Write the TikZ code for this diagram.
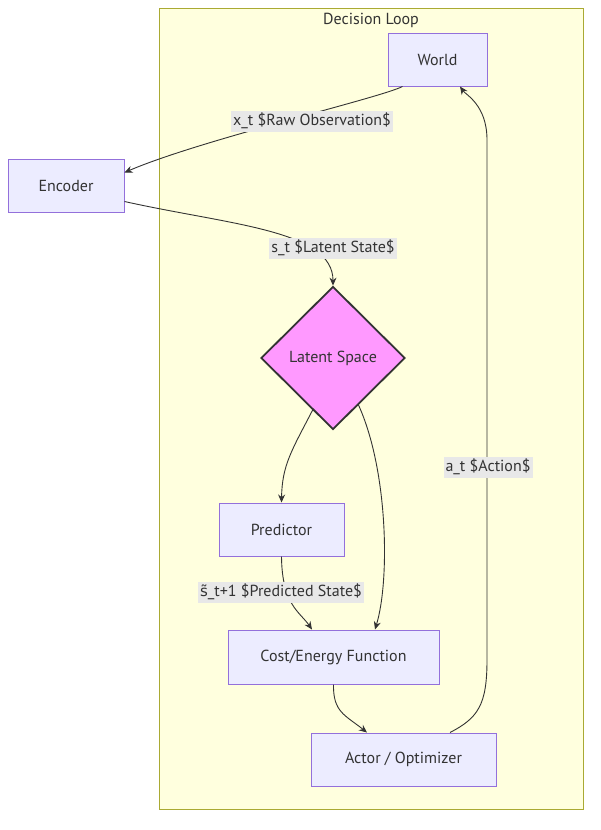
\documentclass[tikz,border=0pt]{standalone}
\usepackage{fontspec}
\setmainfont{PT Sans}
\newfontfamily\djv{DejaVu Sans}
\usetikzlibrary{shapes.geometric,arrows.meta,calc}
\definecolor{clfill}{HTML}{FFFFDE}
\definecolor{clline}{HTML}{AAAA33}
\definecolor{ndfill}{HTML}{ECECFF}
\definecolor{ndline}{HTML}{9370DB}
\definecolor{txt}{HTML}{333333}
\definecolor{lblbg}{HTML}{E8E8E8}
\definecolor{violetfill}{HTML}{FF99FF}
\tikzset{
  box/.style={draw=ndline, fill=ndfill, line width=1pt, text=txt, font=\fontsize{16}{19}\selectfont, inner sep=0pt},
  lbl/.style={fill=lblbg, text=txt, font=\fontsize{16}{19}\selectfont, inner sep=2pt, minimum height=21pt},
  arr/.style={draw=txt, line width=0.9pt, -{Stealth[length=8pt,width=7pt]}},
}
\begin{document}
\begin{tikzpicture}[x=1pt,y=-1pt]
\useasboundingbox (0,0) rectangle (600,830);
\fill[white] (0,0) rectangle (600,830);
% cluster
\draw[clline, fill=clfill, line width=1pt] (159,8) rectangle (583,809);
\node[text=txt, font=\fontsize{16}{19}\selectfont] (title) at (371,20) {Decision Loop};
% nodes
\node[box, minimum width=99pt, minimum height=53pt] (world) at (437.5,59.5) {World};
\node[box, minimum width=116pt, minimum height=53pt] (enc) at (66,185.5) {Encoder};
\node[diamond, draw=txt, fill=violetfill, line width=1.8pt, minimum width=144pt, minimum height=143pt, inner sep=0pt, text=txt, font=\fontsize{16}{19}\selectfont] (lat) at (333,358) {Latent Space};
\node[box, minimum width=125pt, minimum height=53pt] (pred) at (281.5,529.5) {Predictor};
\node[box, minimum width=211pt, minimum height=54pt] (cost) at (333.5,657) {Cost/Energy Function};
\node[box, minimum width=185pt, minimum height=53pt] (act) at (403.5,759.5) {Actor / Optimizer};
% edges
\coordinate (w1) at ($(world.south)+(-35,0)$);
\coordinate (e1) at ($(enc.east)+(0,-13)$);
\draw[arr] (w1) .. controls (380,98) and (200,140) .. (e1);
\node[lbl] (l1) at (312,121) {x\_t \$Raw Observation\$};
\coordinate (e2) at ($(enc.east)+(0,16)$);
\draw[arr] (e2) .. controls (230,225) and (333,230) .. (lat.north);
\node[lbl] (l2) at (333,248) {s\_t \$Latent State\$};
\coordinate (lp) at ($(lat.south)!0.28!(lat.west)$);
\draw[arr] (lp) .. controls (292,450) and (282,465) .. (pred.north);
\coordinate (lc) at ($(lat.south)!0.35!(lat.east)$);
\coordinate (c1) at ($(cost.north)+(41.5,0)$);
\draw[arr] (lc) .. controls (388,470) and (390,580) .. (c1);
\coordinate (c2) at ($(cost.north)+(-21.5,0)$);
\draw[arr] (pred.south) .. controls (282,605) and (300,612) .. (c2);
\node[lbl] (l3) at (281,592) {{\djv\fontsize{15}{18}\selectfont s\char"0303}\_t+1 \$Predicted State\$};
\coordinate (a1) at ($(act.north)+(-36.5,0)$);
\draw[arr] (cost.south) .. controls (333,712) and (345,715) .. (a1);
\coordinate (a2) at ($(act.north)+(46.5,0)$);
\coordinate (w2) at ($(world.south)+(22.5,0)$);
\draw[arr] (a2) .. controls (478,718) and (487,705) .. (487,660) -- (487,140) .. controls (487,105) and (466,95) .. (w2);
\node[lbl] (l4) at (488,467) {a\_t \$Action\$};
\end{tikzpicture}
\end{document}
